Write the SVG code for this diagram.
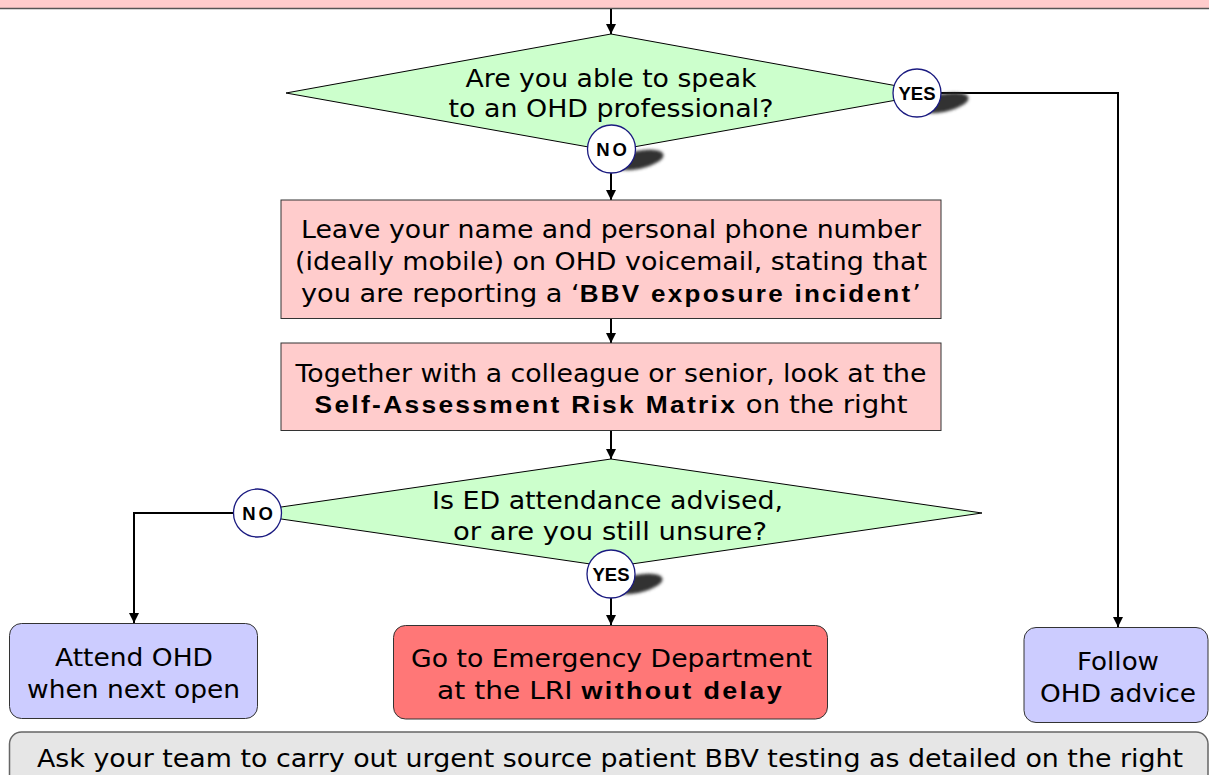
<svg xmlns="http://www.w3.org/2000/svg" width="1209" height="775" viewBox="0 0 1209 775">
<style>
.t{font-family:"DejaVu Sans",Verdana,sans-serif;font-size:24px;fill:#000;text-anchor:middle}
.b{font-family:"Liberation Sans",Arial,sans-serif;font-weight:bold;font-size:23px;letter-spacing:2px}
.box{fill:#ffcccc;stroke:#333;stroke-width:1}
.dia{fill:#ccffcc;stroke:#000;stroke-width:1}
.lav{fill:#ccccff;stroke:#333;stroke-width:1}
.red{fill:#ff7777;stroke:#333;stroke-width:1}
.grey{fill:#e6e6e6;stroke:#666;stroke-width:1.5}
.badge{fill:#fff;stroke:#1a1a80;stroke-width:1.3}
.bt{font-family:"Liberation Sans",Arial,sans-serif;font-weight:bold;font-size:18.5px;text-anchor:middle;fill:#000}
.sh{fill:#333;filter:url(#blur)}
.c{fill:none;stroke:#000;stroke-width:2}
</style>
<defs>
<marker id="arr" markerUnits="userSpaceOnUse" markerWidth="12" markerHeight="12" refX="10" refY="5" orient="auto">
<path d="M0,0 L10,5 L0,10 Z" fill="#000"/>
</marker>
<filter id="blur" x="-30%" y="-50%" width="160%" height="200%"><feGaussianBlur stdDeviation="1.5"/></filter>
</defs>

<g id="top-box">
<rect x="-2" y="-20" width="1213" height="28.5" fill="#ffcccc" stroke="#555" stroke-width="1.5"/>
</g>

<g id="connectors">
<path class="c" d="M611,9 V34" marker-end="url(#arr)"/>
<path class="c" d="M611,173 V200" marker-end="url(#arr)"/>
<path class="c" d="M941,93 H1118 V627" marker-end="url(#arr)"/>
<path class="c" d="M611,319 V343" marker-end="url(#arr)"/>
<path class="c" d="M611,431 V459" marker-end="url(#arr)"/>
<path class="c" d="M233,513 H134 V623" marker-end="url(#arr)"/>
<path class="c" d="M611,598 V625" marker-end="url(#arr)"/>
</g>

<g id="q1">
<polygon class="dia" points="611,34 936,93 611,151 286,93"/>
<text class="t" x="611" y="86.5" textLength="291" lengthAdjust="spacingAndGlyphs">Are you able to speak</text>
<text class="t" x="611" y="117" textLength="325" lengthAdjust="spacingAndGlyphs">to an OHD professional?</text>
</g>

<g id="q1-no">
<ellipse class="sh" cx="638" cy="160" rx="26" ry="9" transform="rotate(-12 638 160)"/>
<circle class="badge" cx="611.5" cy="149" r="24"/>
<text class="bt" x="613" y="156" letter-spacing="3">NO</text>
</g>

<g id="q1-yes">
<ellipse class="sh" cx="943" cy="103" rx="26" ry="9" transform="rotate(-12 943 103)"/>
<circle class="badge" cx="917" cy="93" r="24"/>
<text class="bt" x="917" y="100">YES</text>
</g>

<g id="leave-message">
<rect class="box" x="281" y="200" width="660" height="118.5"/>
<text class="t" x="611" y="238" textLength="620" lengthAdjust="spacingAndGlyphs">Leave your name and personal phone number</text>
<text class="t" x="611" y="270" textLength="632" lengthAdjust="spacingAndGlyphs">(ideally mobile) on OHD voicemail, stating that</text>
<text class="t" x="611" y="302" textLength="620" lengthAdjust="spacingAndGlyphs">you are reporting a ‘<tspan class="b">BBV exposure incident</tspan>’</text>
</g>

<g id="self-assess">
<rect class="box" x="281" y="343" width="660" height="87.5"/>
<text class="t" x="611" y="382" textLength="631" lengthAdjust="spacingAndGlyphs">Together with a colleague or senior, look at the</text>
<text class="t" x="611" y="413" textLength="593" lengthAdjust="spacingAndGlyphs"><tspan class="b" letter-spacing="2.3">Self-Assessment Risk Matrix</tspan> on the right</text>
</g>

<g id="q2">
<polygon class="dia" points="611,459 982,513 611,567 240,513"/>
<text class="t" x="607.5" y="509" textLength="351" lengthAdjust="spacingAndGlyphs">Is ED attendance advised,</text>
<text class="t" x="610" y="540" textLength="314" lengthAdjust="spacingAndGlyphs">or are you still unsure?</text>
</g>

<g id="q2-no">
<circle class="badge" cx="257.5" cy="513" r="24"/>
<text class="bt" x="259" y="520" letter-spacing="3">NO</text>
</g>

<g id="q2-yes">
<ellipse class="sh" cx="637" cy="584" rx="26" ry="9" transform="rotate(-12 637 584)"/>
<circle class="badge" cx="611" cy="574" r="24"/>
<text class="bt" x="611" y="581">YES</text>
</g>

<g id="attend-ohd">
<rect class="lav" x="9.5" y="623.5" width="248" height="95" rx="12"/>
<text class="t" x="134" y="666" textLength="158" lengthAdjust="spacingAndGlyphs">Attend OHD</text>
<text class="t" x="133.5" y="698" textLength="213" lengthAdjust="spacingAndGlyphs">when next open</text>
</g>

<g id="go-ed">
<rect class="red" x="393.5" y="625.5" width="434" height="93.5" rx="12"/>
<text class="t" x="611.5" y="667" textLength="401" lengthAdjust="spacingAndGlyphs">Go to Emergency Department</text>
<text class="t" x="610.5" y="699" textLength="347" lengthAdjust="spacingAndGlyphs">at the LRI <tspan class="b" letter-spacing="3.5">without delay</tspan></text>
</g>

<g id="follow-ohd">
<rect class="lav" x="1024" y="627.5" width="184" height="95" rx="12"/>
<text class="t" x="1118" y="670" textLength="82" lengthAdjust="spacingAndGlyphs">Follow</text>
<text class="t" x="1118" y="702" textLength="156" lengthAdjust="spacingAndGlyphs">OHD advice</text>
</g>

<g id="bottom-box">
<rect class="grey" x="9.5" y="732" width="1198.5" height="60" rx="12"/>
<text class="t" x="610" y="767" textLength="1146" lengthAdjust="spacingAndGlyphs">Ask your team to carry out urgent source patient BBV testing as detailed on the right</text>
</g>
</svg>
